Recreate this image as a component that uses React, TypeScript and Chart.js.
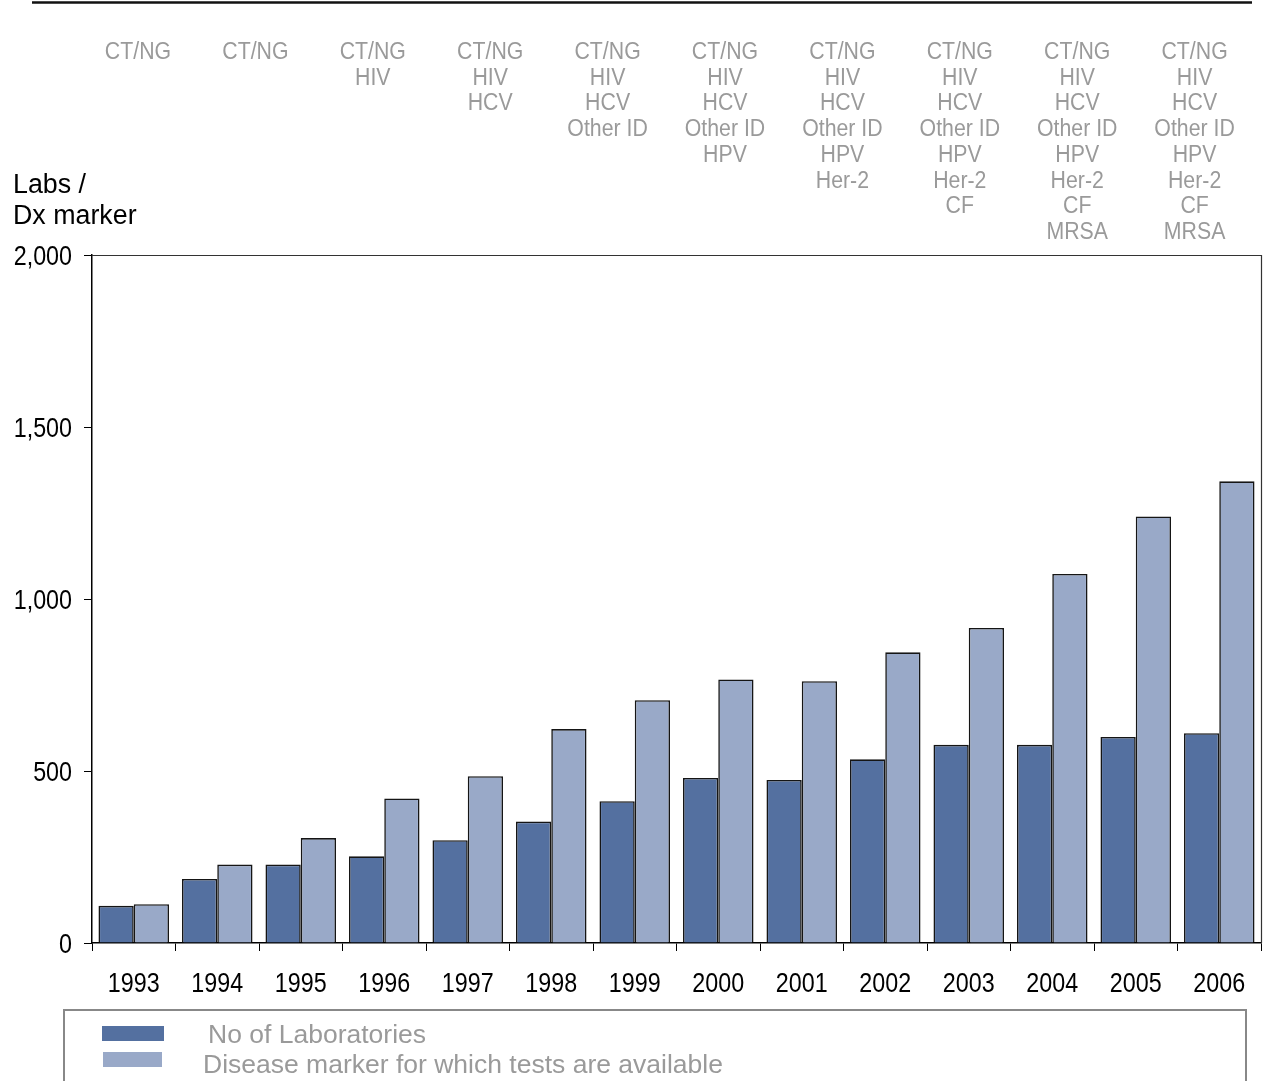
import React, { useEffect, useRef } from "react";
import { Chart, registerables } from "chart.js";

Chart.register(...registerables);

// Years on the category axis
const years = [
  "1993", "1994", "1995", "1996", "1997", "1998", "1999",
  "2000", "2001", "2002", "2003", "2004", "2005", "2006",
];

// Number of laboratories per year
const labCounts = [108, 186, 228, 252, 299, 353, 412, 480, 474, 534, 576, 576, 599, 610];

// Disease markers for which tests are available, per year
const markerCounts = [113, 228, 305, 420, 485, 622, 706, 766, 761, 845, 916, 1073, 1240, 1342];

// Value axis ticks
const yTicks = [0, 500, 1000, 1500, 2000];

// Marker panels listed above the plot
const markerPanels: string[][] = [
  ["CT/NG"],
  ["CT/NG"],
  ["CT/NG", "HIV"],
  ["CT/NG", "HIV", "HCV"],
  ["CT/NG", "HIV", "HCV", "Other ID"],
  ["CT/NG", "HIV", "HCV", "Other ID", "HPV"],
  ["CT/NG", "HIV", "HCV", "Other ID", "HPV", "Her-2"],
  ["CT/NG", "HIV", "HCV", "Other ID", "HPV", "Her-2", "CF"],
  ["CT/NG", "HIV", "HCV", "Other ID", "HPV", "Her-2", "CF", "MRSA"],
  ["CT/NG", "HIV", "HCV", "Other ID", "HPV", "Her-2", "CF", "MRSA"],
];

const seriesNames = ["No of Laboratories", "Disease marker for which tests are available"];
const axisTitle = ["Labs /", "Dx marker"];

const DARK = "#5470A0";
const LIGHT = "#99A9C8";
const GREY_TEXT = "#9a9a9a";
const FONT = "'Liberation Sans', Arial, sans-serif";

const W = 1269;
const H = 1081;

// draws text with its baseline at (x, y), stretched vertically by sy
function tallText(
  ctx: CanvasRenderingContext2D,
  text: string,
  x: number,
  y: number,
  sy: number
) {
  ctx.save();
  ctx.translate(x, y);
  ctx.scale(1, sy);
  ctx.fillText(text, 0, 0);
  ctx.restore();
}

const decorations = {
  id: "decorations",
  afterDraw(chart: any) {
    const ctx = chart.ctx as CanvasRenderingContext2D;
    const area = chart.chartArea;
    const xScale = chart.scales.x;
    const yScale = chart.scales.y;
    ctx.save();
    ctx.textBaseline = "alphabetic";

    // heavy rule at the very top
    ctx.strokeStyle = "#111";
    ctx.lineWidth = 2.5;
    ctx.beginPath();
    ctx.moveTo(32, 2.5);
    ctx.lineTo(1252, 2.5);
    ctx.stroke();

    // top and right edges of the plot frame
    ctx.strokeStyle = "#333";
    ctx.lineWidth = 1.2;
    ctx.beginPath();
    ctx.moveTo(area.left, area.top + 0.5);
    ctx.lineTo(area.right + 0.5, area.top + 0.5);
    ctx.lineTo(area.right + 0.5, area.bottom);
    ctx.stroke();

    // category labels
    ctx.fillStyle = "#000";
    ctx.font = `23.3px ${FONT}`;
    ctx.textAlign = "center";
    years.forEach((y, i) => {
      tallText(ctx, y, xScale.getPixelForTick(i), 991.5, 1.16);
    });

    // value labels
    ctx.textAlign = "right";
    yTicks.forEach((v) => {
      tallText(ctx, v.toLocaleString("en-US"), 72, yScale.getPixelForValue(v) + 9.7, 1.16);
    });

    // marker panels above the plot
    ctx.fillStyle = GREY_TEXT;
    ctx.font = `21.3px ${FONT}`;
    ctx.textAlign = "center";
    const colStart = 138;
    const colStep = 117.4;
    const rowStart = 59;
    const rowStep = 25.7;
    markerPanels.forEach((panel, i) => {
      panel.forEach((name, j) => {
        tallText(ctx, name, colStart + i * colStep, rowStart + j * rowStep, 1.1);
      });
    });

    // value axis title
    ctx.fillStyle = "#000";
    ctx.font = `26.8px ${FONT}`;
    ctx.textAlign = "left";
    axisTitle.forEach((t, j) => tallText(ctx, t, 13, 192.7 + j * 31, 1.03));

    // legend frame
    ctx.strokeStyle = "#888";
    ctx.lineWidth = 2;
    ctx.strokeRect(64, 1010, 1182, 90);

    // legend entries
    const swatches = [
      { color: DARK, x: 102, y: 1026, w: 62, h: 15, tx: 208, ty: 1042.7 },
      { color: LIGHT, x: 103, y: 1052, w: 59, h: 15, tx: 203, ty: 1073 },
    ];
    ctx.font = `26.5px ${FONT}`;
    swatches.forEach((s, i) => {
      ctx.fillStyle = s.color;
      ctx.fillRect(s.x, s.y, s.w, s.h);
      ctx.fillStyle = GREY_TEXT;
      ctx.fillText(seriesNames[i], s.tx, s.ty);
    });

    ctx.restore();
  },
};

export default function App() {
  const canvasRef = useRef<HTMLCanvasElement | null>(null);

  useEffect(() => {
    document.body.style.margin = "0";
    document.body.style.overflow = "hidden";
    const canvas = canvasRef.current;
    if (!canvas) return;

    const barStyle = {
      borderColor: "#151515",
      borderWidth: 1.6,
      borderSkipped: "bottom" as const,
      categoryPercentage: 0.845,
      barPercentage: 1,
    };

    const chart = new Chart(canvas, {
      type: "bar",
      data: {
        labels: years,
        datasets: [
          { label: seriesNames[0], data: labCounts, backgroundColor: DARK, ...barStyle },
          { label: seriesNames[1], data: markerCounts, backgroundColor: LIGHT, ...barStyle },
        ],
      },
      options: {
        responsive: false,
        animation: false,
        devicePixelRatio: 1,
        layout: { padding: { top: 255, left: 0, right: 8, bottom: 78 } },
        plugins: {
          legend: { display: false },
          tooltip: { enabled: false },
          title: { display: false },
        },
        scales: {
          x: {
            offset: true,
            grid: {
              offset: true,
              drawOnChartArea: false,
              drawTicks: true,
              tickLength: 8,
              color: "#000",
              lineWidth: 1,
            },
            border: { display: true, color: "#000", width: 1.5 },
            ticks: { display: false, autoSkip: false },
            afterFit(scale: any) {
              scale.height = 60;
            },
          },
          y: {
            min: 0,
            max: 2000,
            afterBuildTicks(scale: any) {
              scale.ticks = yTicks.map((v) => ({ value: v }));
            },
            grid: {
              drawOnChartArea: false,
              drawTicks: true,
              tickLength: 8,
              color: "#000",
              lineWidth: 1,
            },
            border: { display: true, color: "#000", width: 1.5 },
            ticks: { display: false },
            afterFit(scale: any) {
              scale.width = 92;
            },
          },
        },
      },
      plugins: [decorations],
    });

    return () => chart.destroy();
  }, []);

  return (
    <div style={{ width: W, height: H, overflow: "hidden", position: "relative" }}>
      <canvas ref={canvasRef} width={W} height={H} style={{ display: "block" }} />
    </div>
  );
}
